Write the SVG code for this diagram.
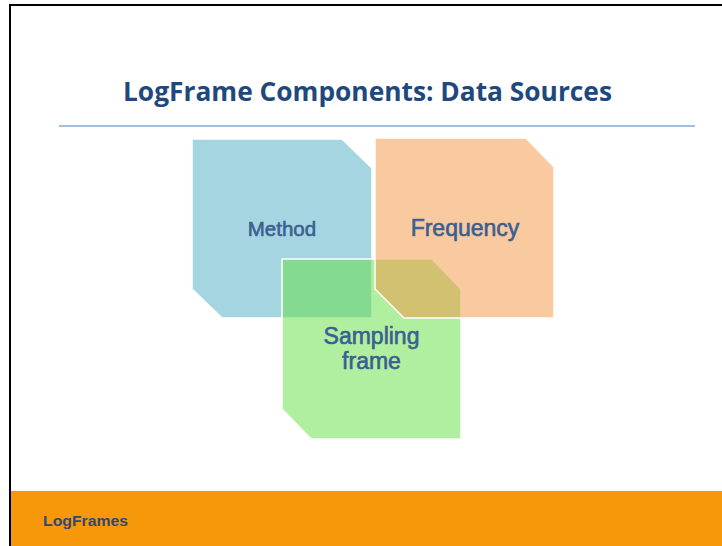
<svg xmlns="http://www.w3.org/2000/svg" width="722" height="546" viewBox="0 0 722 546">
<style>
.shape{stroke:#ffffff;stroke-width:1.5}
.lbl{font-family:"Liberation Sans",Arial,sans-serif;fill:#3a5f90;stroke:#3a5f90;stroke-width:0.6;text-anchor:middle}
</style>
<rect x="0" y="0" width="722" height="546" fill="#ffffff"/>
<rect x="11" y="491" width="711" height="55" fill="#f7970a"/>
<path d="M10 546 V5 H722" fill="none" stroke="#000000" stroke-width="2"/>
<text x="123" y="101" font-family="'Open Sans','Liberation Sans',sans-serif" font-weight="bold" font-size="26" fill="#1f497d" textLength="489" lengthAdjust="spacingAndGlyphs">LogFrame Components: Data Sources</text>
<line x1="59" y1="126" x2="695" y2="126" stroke="#a4bedd" stroke-width="2"/>
<g id="nodes">
<g id="method">
<polygon class="shape" points="192,139 342,139 372,168 372,318 222,318 192,289" fill="#a6d5e2"/>
<text class="lbl" x="282" y="236" font-size="20.5">Method</text>
</g>
<g id="sampling-frame">
<polygon class="shape" points="282,259 432,259 461,289 461,439 311,439 282,409" fill="rgb(100,224,65)" fill-opacity="0.5"/>
</g>
<g id="frequency">
<polygon class="shape" points="375,138 526,138 554,167 554,318 404,318 375,289" fill="rgb(243,147,65)" fill-opacity="0.5"/>
<text class="lbl" x="465" y="236" font-size="23">Frequency</text>
</g>
<text class="lbl" font-size="23" stroke-width="0.8"><tspan x="371.5" y="344">Sampling</tspan><tspan x="371.5" y="369">frame</tspan></text>
</g>
<g id="connectors"></g>
<text x="43" y="526" font-family="'Liberation Sans',Arial,sans-serif" font-weight="bold" font-size="15" fill="#2c4a78" textLength="85" lengthAdjust="spacingAndGlyphs">LogFrames</text>
</svg>
